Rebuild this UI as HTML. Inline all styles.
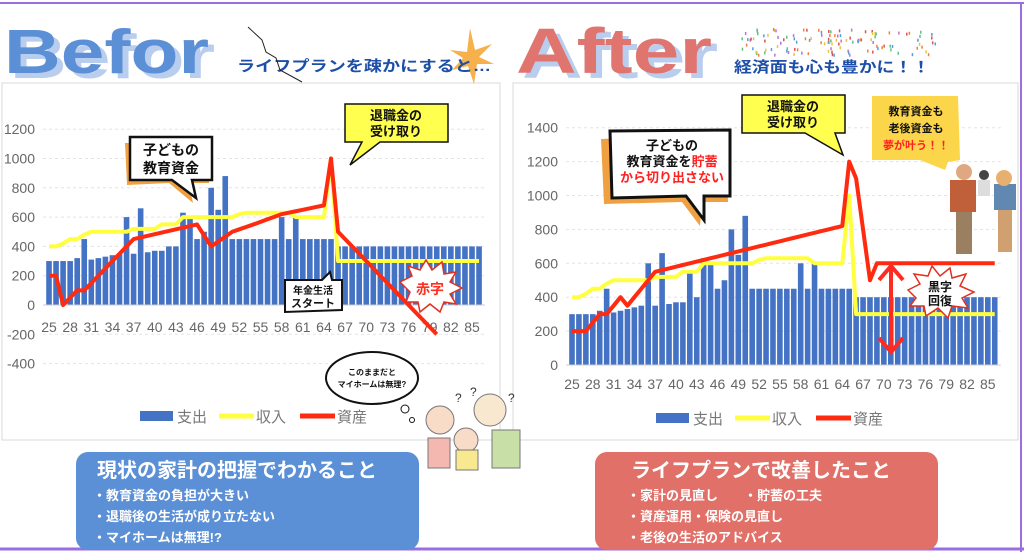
<!DOCTYPE html>
<html><head><meta charset="utf-8">
<style>
html,body{margin:0;padding:0;background:#fff;}
svg{display:block;font-family:"Liberation Sans","Noto Sans CJK JP",sans-serif;}
</style></head>
<body>
<svg id="s" width="1024" height="552" viewBox="0 0 1024 552" xmlns="http://www.w3.org/2000/svg">
<rect width="1024" height="552" fill="#fff"/>
<line x1="0" y1="3" x2="1024" y2="3" stroke="#9a6ee0" stroke-width="2"/>
<line x1="1021" y1="3" x2="1021" y2="552" stroke="#9a6ee0" stroke-width="2"/>
<line x1="0" y1="549" x2="1024" y2="549" stroke="#9a6ee0" stroke-width="3"/>
<!-- panels -->
<rect x="2" y="83" width="498" height="357" fill="#fff" stroke="#d8d8d8"/>
<rect x="513" y="83" width="505" height="357" fill="#fff" stroke="#d8d8d8"/>
<!-- titles -->
<text x="10" y="78" font-size="62" font-weight="bold" fill="#b9cdee" textLength="205" lengthAdjust="spacingAndGlyphs">Befor</text>
<text x="4" y="73" font-size="62" font-weight="bold" fill="#5b8fd6" textLength="205" lengthAdjust="spacingAndGlyphs">Befor</text>
<polygon points="470,28 475,50 492,44 479,57 494,64 477,64 474,84 468,66 452,70 463,58 450,50 467,52" fill="#f6b04c"/>
<text x="237" y="71" font-size="15" font-weight="bold" fill="#1d4fa8" textLength="254" lengthAdjust="spacingAndGlyphs">ライフプランを疎かにすると…</text>
<polyline points="248,27 262,40 266,52 276,58 280,70 302,82" fill="none" stroke="#222" stroke-width="1"/>
<text x="522" y="78" font-size="64" font-weight="bold" fill="#b9cdee" textLength="196" lengthAdjust="spacingAndGlyphs">After</text>
<text x="516" y="73" font-size="64" font-weight="bold" fill="#e07570" textLength="196" lengthAdjust="spacingAndGlyphs">After</text>
<text x="734" y="72" font-size="15" font-weight="bold" fill="#1d4fa8" textLength="196" lengthAdjust="spacingAndGlyphs">経済面も心も豊かに！！</text>
<g id="confetti"></g>
<g id="L"></g>
<g id="R"></g>

<!-- left callouts -->
<g>
<path d="M128,140 L212,138 L212,180 L192,180 L196,200 L172,180 L130,182 Z" fill="#f0a040" transform="translate(-3,3)"/>
<path d="M130,137 L212,137 L212,180 L192,180 L196,198 L172,180 L130,180 Z" fill="#fff" stroke="#111" stroke-width="2.5"/>
<text x="171" y="155" font-size="14" font-weight="bold" text-anchor="middle" fill="#111">子どもの</text>
<text x="171" y="173" font-size="14" font-weight="bold" text-anchor="middle" fill="#111">教育資金</text>
</g>
<g>
<path d="M345,104 L448,104 L448,142 L380,142 L350,165 L362,142 L345,142 Z" fill="#ffff50" stroke="#111" stroke-width="1.5"/>
<text x="396" y="120" font-size="13" font-weight="bold" text-anchor="middle" fill="#111">退職金の</text>
<text x="396" y="136" font-size="13" font-weight="bold" text-anchor="middle" fill="#111">受け取り</text>
</g>
<g>
<path d="M285,280 L322,280 L330,272 L332,280 L342,280 L342,310 L285,312 Z" fill="#fff" stroke="#111" stroke-width="2"/>
<text x="313" y="294" font-size="10" font-weight="bold" text-anchor="middle" fill="#111">年金生活</text>
<text x="313" y="307" font-size="11" font-weight="bold" text-anchor="middle" fill="#111">スタート</text>
</g>
<g>
<polygon points="400,282 412,276 408,266 420,270 426,260 432,270 442,262 444,274 456,272 450,282 462,288 450,294 456,304 444,302 440,312 430,304 420,312 418,302 406,302 410,292" fill="#fff" stroke="#e03020" stroke-width="1.5"/>
<text x="430" y="294" font-size="14" font-weight="bold" text-anchor="middle" fill="#ff3020">赤字</text>
</g>
<g>
<ellipse cx="372" cy="378" rx="46" ry="26" fill="#fff" stroke="#111" stroke-width="2"/>
<text x="372" y="375" font-size="8" font-weight="bold" text-anchor="middle" fill="#111">このままだと</text>
<text x="372" y="387" font-size="8" font-weight="bold" text-anchor="middle" fill="#111">マイホームは無理?</text>
<circle cx="405" cy="409" r="4" fill="#fff" stroke="#111"/>
<circle cx="412" cy="420" r="2.5" fill="#fff" stroke="#111"/>
</g>
<!-- people left -->
<g stroke="#777" stroke-width="1">
<rect x="428" y="438" width="22" height="30" fill="#f4b8b0"/>
<rect x="492" y="430" width="28" height="38" fill="#c8e0a8"/>
<circle cx="440" cy="420" r="14" fill="#f8dcc8"/>
<circle cx="490" cy="410" r="16" fill="#f8e8d0"/>
<circle cx="466" cy="440" r="12" fill="#f8dcc8"/>
<rect x="456" y="450" width="22" height="20" fill="#f8e890"/>
</g>
<text x="455" y="402" font-size="12" fill="#333">?</text>
<text x="470" y="396" font-size="12" fill="#333">?</text>
<text x="508" y="402" font-size="12" fill="#333">?</text>

<!-- right callouts -->
<g>
<path d="M605,135 L730,130 L732,198 L706,198 L704,222 L686,198 L608,200 Z" fill="#f0a040" transform="translate(-4,4)"/>
<path d="M610,131 L730,130 L730,196 L704,196 L704,220 L686,196 L612,198 Z" fill="#fff" stroke="#111" stroke-width="3"/>
<text x="672" y="150" font-size="13" font-weight="bold" text-anchor="middle" fill="#111">子どもの</text>
<text x="672" y="166" font-size="13" font-weight="bold" text-anchor="middle" fill="#111">教育資金を<tspan fill="#ff2020">貯蓄</tspan></text>
<text x="672" y="182" font-size="13" font-weight="bold" text-anchor="middle" fill="#ff2020">から切り出さない</text>
</g>
<g>
<path d="M742,95 L845,95 L845,133 L835,133 L843,155 L805,133 L742,133 Z" fill="#ffff50" stroke="#111" stroke-width="1.5"/>
<text x="793" y="111" font-size="13" font-weight="bold" text-anchor="middle" fill="#111">退職金の</text>
<text x="793" y="127" font-size="13" font-weight="bold" text-anchor="middle" fill="#111">受け取り</text>
</g>
<g>
<path d="M872,96 L958,96 L960,160 L948,162 L945,170 L920,160 L872,160 Z" fill="#fbd64a"/>
<text x="916" y="115" font-size="11" font-weight="bold" text-anchor="middle" fill="#111">教育資金も</text>
<text x="916" y="132" font-size="11" font-weight="bold" text-anchor="middle" fill="#111">老後資金も</text>
<text x="916" y="149" font-size="11" font-weight="bold" text-anchor="middle" fill="#ff2020">夢が叶う！！</text>
</g>
<g>
<polygon points="908,290 920,284 914,274 928,276 932,266 940,276 950,268 952,278 966,274 960,286 974,292 962,298 968,308 952,306 948,318 938,308 926,316 924,306 910,306 916,298" fill="#fff" stroke="#e03020" stroke-width="1.5"/>
<text x="940" y="291" font-size="12" font-weight="bold" text-anchor="middle" fill="#111">黒字</text>
<text x="940" y="305" font-size="12" font-weight="bold" text-anchor="middle" fill="#111">回復</text>
</g>
<g stroke="#ff2a20" stroke-width="4" fill="none">
<line x1="891" y1="268" x2="891" y2="350"/>
<polyline points="879,280 891,266 903,280"/>
<polyline points="879,338 891,352 903,338"/>
</g>
<!-- people right -->
<g>
<rect x="956" y="196" width="16" height="58" fill="#9a8060"/>
<rect x="950" y="180" width="26" height="32" fill="#c0603a"/>
<circle cx="964" cy="172" r="8" fill="#e0a880"/>
<rect x="998" y="200" width="14" height="52" fill="#d0a070"/>
<rect x="994" y="184" width="22" height="26" fill="#6088b0"/>
<circle cx="1004" cy="178" r="8" fill="#e8b070"/>
<rect x="978" y="180" width="12" height="16" fill="#ddd"/>
<circle cx="984" cy="175" r="5" fill="#444"/>
</g>

<!-- bottom boxes -->
<rect x="76" y="452" width="343" height="98" rx="12" fill="#5b8fd6"/>
<text x="97" y="477" font-size="20" fill="#fff" font-weight="bold">現状の家計の把握でわかること</text>
<text x="93" y="500" font-size="13" fill="#fff" font-weight="bold">・教育資金の負担が大きい</text>
<text x="93" y="521" font-size="13" fill="#fff" font-weight="bold">・退職後の生活が成り立たない</text>
<text x="93" y="542" font-size="13" fill="#fff" font-weight="bold">・マイホームは無理!?</text>
<rect x="595" y="452" width="343" height="98" rx="12" fill="#e07068"/>
<text x="631" y="477" font-size="20" fill="#fff" font-weight="bold">ライフプランで改善したこと</text>
<text x="627" y="500" font-size="13" fill="#fff" font-weight="bold">・家計の見直し　　・貯蓄の工夫</text>
<text x="627" y="521" font-size="13" fill="#fff" font-weight="bold">・資産運用・保険の見直し</text>
<text x="627" y="542" font-size="13" fill="#fff" font-weight="bold">・老後の生活のアドバイス</text>
</svg>
<script>
(function(){
var NS="http://www.w3.org/2000/svg";
function el(p,t,a,txt){var e=document.createElementNS(NS,t);for(var k in a)e.setAttribute(k,a[k]);if(txt!=null)e.textContent=txt;p.appendChild(e);return e;}
var ages=[];for(var a=25;a<=86;a++)ages.push(a);
function exp(a,right){
 if(a<=28)return 300; if(a==29)return 320; if(a==30)return 450;
 if(a<=35)return 310+(a-31)*10; if(a==36)return 600; if(a==37)return 350; if(a==38)return 660;
 if(a==39)return 360; if(a<=41)return 370; if(a==42)return right?540:400; if(a==43)return 400;
 if(a==44)return 630; if(a==45)return 600; if(a==46)return 450; if(a==47)return 500; if(a==48)return 800;
 if(a==49)return 650; if(a==50)return 880; if(a==58||a==60)return 600; if(a<=65)return 450; return 400;}
function inc(a){
 if(a<=26)return 400; if(a==27)return 420; if(a<=29)return 450; if(a==30)return 480; if(a<=36)return 500;
 if(a<=40)return 520; if(a<=43)return 550; if(a<=51)return 600; if(a==52)return 620; if(a<=59)return 630;
 if(a<=64)return 600; if(a==65)return 1000; return 300;}
function assetL(a){
 var pts=[[25,200],[26,200],[27,0],[29,100],[30,100],[37,450],[46,550],[48,400],[51,500],[54,550],[58,620],[64,680],[65,1000],[66,500],[80,-200]];
 return interp(pts,a);}
function assetR(a){
 var pts=[[25,200],[27,200],[29,300],[30,300],[32,400],[33,350],[37,550],[64,820],[65,1200],[66,1100],[68,500],[69,600],[86,600]];
 return interp(pts,a);}
function interp(p,a){for(var i=0;i<p.length-1;i++){if(a>=p[i][0]&&a<=p[i+1][0]){var t=(a-p[i][0])/(p[i+1][0]-p[i][0]);return p[i][1]+t*(p[i+1][1]-p[i][1]);}}return null;}
function chart(g,x0,dx,y0,k,ticks,right,lx,ly){
 ticks.forEach(function(v){var y=y0-v*k;
  el(g,"line",{x1:x0-6,x2:x0+dx*61+6,y1:y,y2:y,stroke:"#e4e4e4","stroke-dasharray":"3,3"});
  el(g,"text",{x:x0-14,y:y+5,"font-size":14,fill:"#666","text-anchor":"end"},String(v));});
 ages.forEach(function(a,i){var v=exp(a,right);var x=x0+dx*i;
  el(g,"rect",{x:x-2.8,y:y0-v*k,width:5.6,height:v*k,fill:"#4472c4"});});
 el(g,"line",{x1:x0-6,x2:x0+dx*61+6,y1:y0,y2:y0,stroke:"#ccc"});
 for(var i=0;i<62;i+=3){el(g,"text",{x:x0+dx*i,y:(right?y0+24:y0+27),"font-size":14,fill:"#666","text-anchor":"middle"},String(ages[i]));}
 var py=[],pr=[];
 ages.forEach(function(a,i){var x=x0+dx*i;py.push(x+","+(y0-inc(a)*k));
  var v=right?assetR(a):assetL(a);if(v!=null)pr.push(x+","+(y0-v*k));});
 el(g,"polyline",{points:py.join(" "),fill:"none",stroke:"#ffff40","stroke-width":4,"stroke-linejoin":"round"});
 el(g,"polyline",{points:pr.join(" "),fill:"none",stroke:"#ff2a10","stroke-width":4,"stroke-linejoin":"round"});
 el(g,"rect",{x:lx,y:ly-5,width:33,height:10,fill:"#4472c4"});
 el(g,"text",{x:lx+37,y:ly+6,"font-size":15,fill:"#777"},"支出");
 el(g,"rect",{x:lx+79,y:ly-2.5,width:35,height:5,fill:"#ffff40"});
 el(g,"text",{x:lx+116,y:ly+6,"font-size":15,fill:"#777"},"収入");
 el(g,"rect",{x:lx+160,y:ly-2.5,width:35,height:5,fill:"#ff2a10"});
 el(g,"text",{x:lx+197,y:ly+6,"font-size":15,fill:"#777"},"資産");
}
chart(document.getElementById("L"),49,7.05,305,0.1465,[1200,1000,800,600,400,200,0,-200,-400],false,140,416);
chart(document.getElementById("R"),572,6.93,365,0.1695,[1400,1200,1000,800,600,400,200,0],true,656,418);
var c=document.getElementById("confetti");var cols=["#e05050","#50a0e0","#f0c040","#60c080","#c070d0","#f08040"];
var s=7;function r(){s=(s*9301+49297)%233280;return s/233280;}
for(var i=0;i<120;i++){el(c,"rect",{x:740+r()*200,y:28+r()*26,width:1.5,height:3,fill:cols[i%6]});}
})();
</script>
</body></html>
